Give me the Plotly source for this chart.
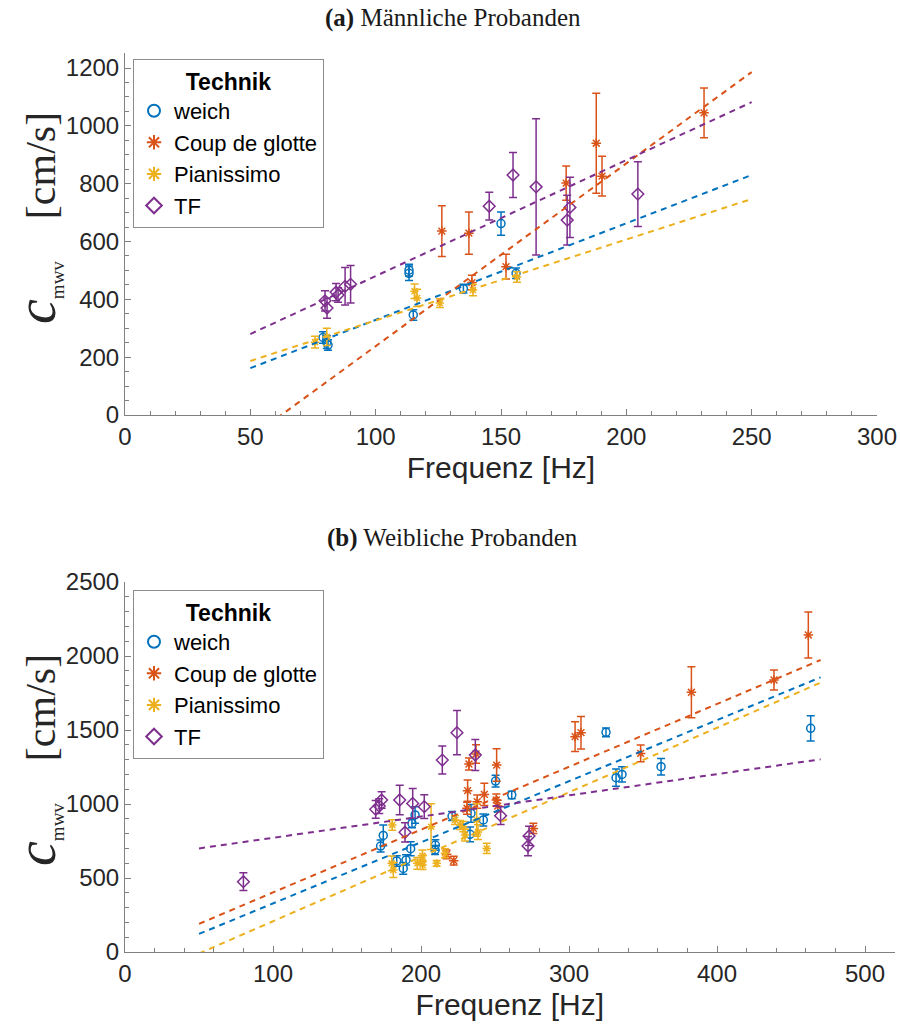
import plotly.graph_objects as go

# ---------------- data: panel (a) male ----------------
weich_m_f = [79, 80.5, 81, 113.3, 113.3, 115, 135, 150, 156]
weich_m_c = [268, 252, 242, 490, 501, 346, 437, 662, 490]
weich_m_e = [20, 22, 18, 25, 20, 18, 15, 40, 18]

coup_m_f = [126.4, 137.2, 138.4, 152, 176, 188, 190.3, 231]
coup_m_c = [636, 629, 458, 513, 802, 940, 826, 1045]
coup_m_e = [88, 73, 25, 43, 59, 173, 69, 86]

pian_m_f = [75.8, 80.5, 115.5, 116.5, 125.6, 138.8, 156.4]
pian_m_c = [252, 270, 428, 405, 387, 432, 477]
pian_m_e = [20, 30, 25, 30, 15, 20, 18]

tf_m_f = [79.8, 80.6, 84.2, 85, 87.8, 90, 145.3, 154.8, 164, 176.4, 177.5, 204.6]
tf_m_c = [395, 370, 425, 415, 445, 452, 722, 830, 789, 674, 718, 764]
tf_m_e = [35, 35, 30, 25, 65, 65, 48, 78, 236, 86, 104, 112]

fit_m_x = [50, 250]
fit_m_weich = [162, 830]
fit_m_coup = [-78, 1186]
fit_m_pian = [187, 747]
fit_m_tf = [280, 1082]

# ---------------- data: panel (b) female ----------------
weich_w_f = [172.7, 174.5, 183.6, 188, 189.9, 193, 193.9, 196, 209.5, 209.7, 221, 233.1,
             233.8, 242.1, 250.4, 261.3, 325, 331.8, 335.8, 362.2, 463.3]
weich_w_c = [716, 788, 615, 565, 622, 698, 869, 926, 689, 723, 919, 795,
             937, 892, 1155, 1061, 1484, 1178, 1200, 1252, 1511]
weich_w_e = [40, 70, 35, 40, 35, 47, 30, 56, 30, 35, 30, 50,
             60, 40, 40, 25, 30, 58, 52, 56, 85]

coup_w_f = [217.3, 222.1, 231.1, 231.5, 232.4, 237.2, 238, 242.8, 250.9, 251.1, 251.8,
            275.9, 304.1, 308.1, 348.4, 382.7, 438.5, 461.7]
coup_w_c = [660, 617, 971, 1090, 1270, 1338, 1016, 1065, 1027, 1263, 986,
            835, 1455, 1482, 1342, 1755, 1838, 2142]
coup_w_e = [30, 30, 40, 72, 40, 62, 45, 75, 40, 110, 40,
            35, 100, 110, 56, 172, 68, 155]

pian_w_f = [180.6, 180.2, 181.3, 197.5, 200.5, 201.1, 201, 206.8, 210.6, 216.2, 223,
            226.4, 228.6, 229.7, 237.6, 238.5, 244.4]
pian_w_c = [858, 599, 554, 599, 622, 588, 650, 847, 599, 667, 892,
            858, 847, 790, 892, 810, 700]
pian_w_e = [35, 50, 50, 40, 30, 30, 40, 155, 20, 30, 30,
            30, 35, 40, 110, 50, 35]

tf_w_f = [80, 169.4, 171.8, 173.4, 185.6, 189.2, 194.4, 202.2, 214.4, 224.3, 236.7, 253.8, 272.3, 273]
tf_w_c = [475, 964, 986, 1027, 1027, 809, 1004, 982, 1297, 1482, 1331, 921, 716, 784]
tf_w_e = [60, 60, 50, 55, 100, 65, 100, 80, 95, 150, 105, 60, 65, 65]

fit_w_x = [50, 470]
fit_w_weich = [122, 1856]
fit_w_coup = [190, 1973]
fit_w_pian = [-10, 1820]
fit_w_tf = [700, 1302]

names = ["weich", "Coup de glotte", "Pianissimo", "TF"]
colors = ["#0072BD", "#D95319", "#EDB120", "#7E2F8E"]
symbols = ["circle-open", "asterisk-open", "asterisk-open", "diamond-open"]
sizes = [8, 8, 7, 9]

W, H = 900, 1030
fig = go.Figure()

panels = [
    dict(xa="x", ya="y", leg="legend",
         data=[(weich_m_f, weich_m_c, weich_m_e), (coup_m_f, coup_m_c, coup_m_e),
               (pian_m_f, pian_m_c, pian_m_e), (tf_m_f, tf_m_c, tf_m_e)],
         fx=fit_m_x, fits=[fit_m_weich, fit_m_coup, fit_m_pian, fit_m_tf]),
    dict(xa="x2", ya="y2", leg="legend2",
         data=[(weich_w_f, weich_w_c, weich_w_e), (coup_w_f, coup_w_c, coup_w_e),
               (pian_w_f, pian_w_c, pian_w_e), (tf_w_f, tf_w_c, tf_w_e)],
         fx=fit_w_x, fits=[fit_w_weich, fit_w_coup, fit_w_pian, fit_w_tf]),
]

for p in panels:
    for i, (f, c, e) in enumerate(p["data"]):
        fig.add_trace(go.Scatter(
            x=f, y=c, mode="markers", name=names[i], legend=p["leg"],
            xaxis=p["xa"], yaxis=p["ya"],
            marker=dict(symbol=symbols[i], size=sizes[i], color=colors[i],
                        line=dict(color=colors[i], width=1.5)),
            error_y=dict(type="data", array=e, visible=True, color=colors[i],
                         thickness=1.5, width=4),
            cliponaxis=True))
    for i, fy in enumerate(p["fits"]):
        fig.add_trace(go.Scatter(
            x=p["fx"], y=fy, mode="lines", showlegend=False,
            xaxis=p["xa"], yaxis=p["ya"],
            line=dict(color=colors[i], width=2, dash="6px,5px")))

axcol = "#808080"
tickfont = dict(family="Liberation Sans, Arial, sans-serif", size=24, color="#262626")
titlefont_x = dict(family="Liberation Sans, Arial, sans-serif", size=30, color="#262626")

def xaxis(rng, dtick, minor, domain, anchor):
    return dict(range=rng, domain=domain, anchor=anchor, dtick=dtick, tick0=0,
                showline=True, linecolor=axcol, linewidth=1, mirror=False,
                ticks="inside", ticklen=6, tickcolor=axcol, tickwidth=1,
                minor=dict(dtick=minor, ticks="inside", ticklen=4, tickcolor=axcol, tickwidth=1),
                showgrid=False, zeroline=False, tickfont=tickfont, automargin=False,
                title=dict(text="Frequenz [Hz]", font=titlefont_x, standoff=8))

def yaxis(rng, dtick, minor, domain, anchor):
    return dict(range=rng, domain=domain, anchor=anchor, dtick=dtick, tick0=0,
                showline=True, linecolor=axcol, linewidth=1, mirror=False,
                ticks="inside", ticklen=6, tickcolor=axcol, tickwidth=1,
                minor=dict(dtick=minor, ticks="inside", ticklen=4, tickcolor=axcol, tickwidth=1),
                showgrid=False, zeroline=False, tickfont=tickfont, automargin=False)

xa_dom = [125 / W, 877 / W]
xb_dom = [125 / W, 894.6 / W]
ya_dom = [1 - 415 / H, 1 - 52.7 / H]
yb_dom = [1 - 952 / H, 1 - 582 / H]

legfont = dict(family="Liberation Sans, Arial, sans-serif", size=22, color="#000000")

def legend(xpx, ypx):
    return dict(x=xpx / W, y=1 - ypx / H, xref="paper", yref="paper",
                xanchor="left", yanchor="top", bgcolor="white",
                bordercolor="#8c8c8c", borderwidth=1, font=legfont,
                title=dict(text="<b>Technik</b>", side="top center",
                           font=dict(family="Liberation Sans, Arial, sans-serif", size=23, color="#000")),
                tracegroupgap=0, itemsizing="constant", itemwidth=30)

fig.update_layout(
    width=W, height=H, paper_bgcolor="white", plot_bgcolor="white",
    margin=dict(l=0, r=0, t=0, b=0),
    xaxis=xaxis([0, 300], 50, 10, xa_dom, "y"),
    yaxis=yaxis([0, 1253], 200, 50, ya_dom, "x"),
    xaxis2=xaxis([0, 520], 100, 20, xb_dom, "y2"),
    yaxis2=yaxis([0, 2500], 500, 100, yb_dom, "x2"),
    legend=legend(133, 59),
    legend2=legend(133, 590),
    showlegend=True,
)

# separator line under legend titles
for ysep in (93, 624):
    fig.add_shape(type="line", xref="paper", yref="paper",
                  x0=133 / W, x1=323 / W, y0=1 - ysep / H, y1=1 - ysep / H,
                  line=dict(color="#8c8c8c", width=1), layer="above")

# y-axis titles (LaTeX-like)
ytitle = ("<i><span style='font-size:56px'>c</span></i>"
          "<sub><span style='font-size:19px'>mwv</span></sub>"
          "&#8195;[cm/s]")
ytfont = dict(family="Liberation Serif, Times New Roman, serif", size=42, color="#262626")
for yc in (218, 760):
    fig.add_annotation(text=ytitle, x=36 / W, y=1 - yc / H, xref="paper", yref="paper",
                       showarrow=False, textangle=-90, font=ytfont,
                       xanchor="center", yanchor="middle")

titlefont = dict(family="Liberation Serif, Times New Roman, serif", size=25, color="#1a1a1a")
fig.add_annotation(text="<b>(a)</b> Männliche Probanden", x=453 / W, y=1 - 18 / H,
                   xref="paper", yref="paper", showarrow=False, font=titlefont,
                   xanchor="center", yanchor="middle")
fig.add_annotation(text="<b>(b)</b> Weibliche Probanden", x=453 / W, y=1 - 538 / H,
                   xref="paper", yref="paper", showarrow=False, font=titlefont,
                   xanchor="center", yanchor="middle")

fig.write_html("out.html", config={"displayModeBar": False},
               post_script="document.body.style.margin='0';document.body.style.padding='0';")
